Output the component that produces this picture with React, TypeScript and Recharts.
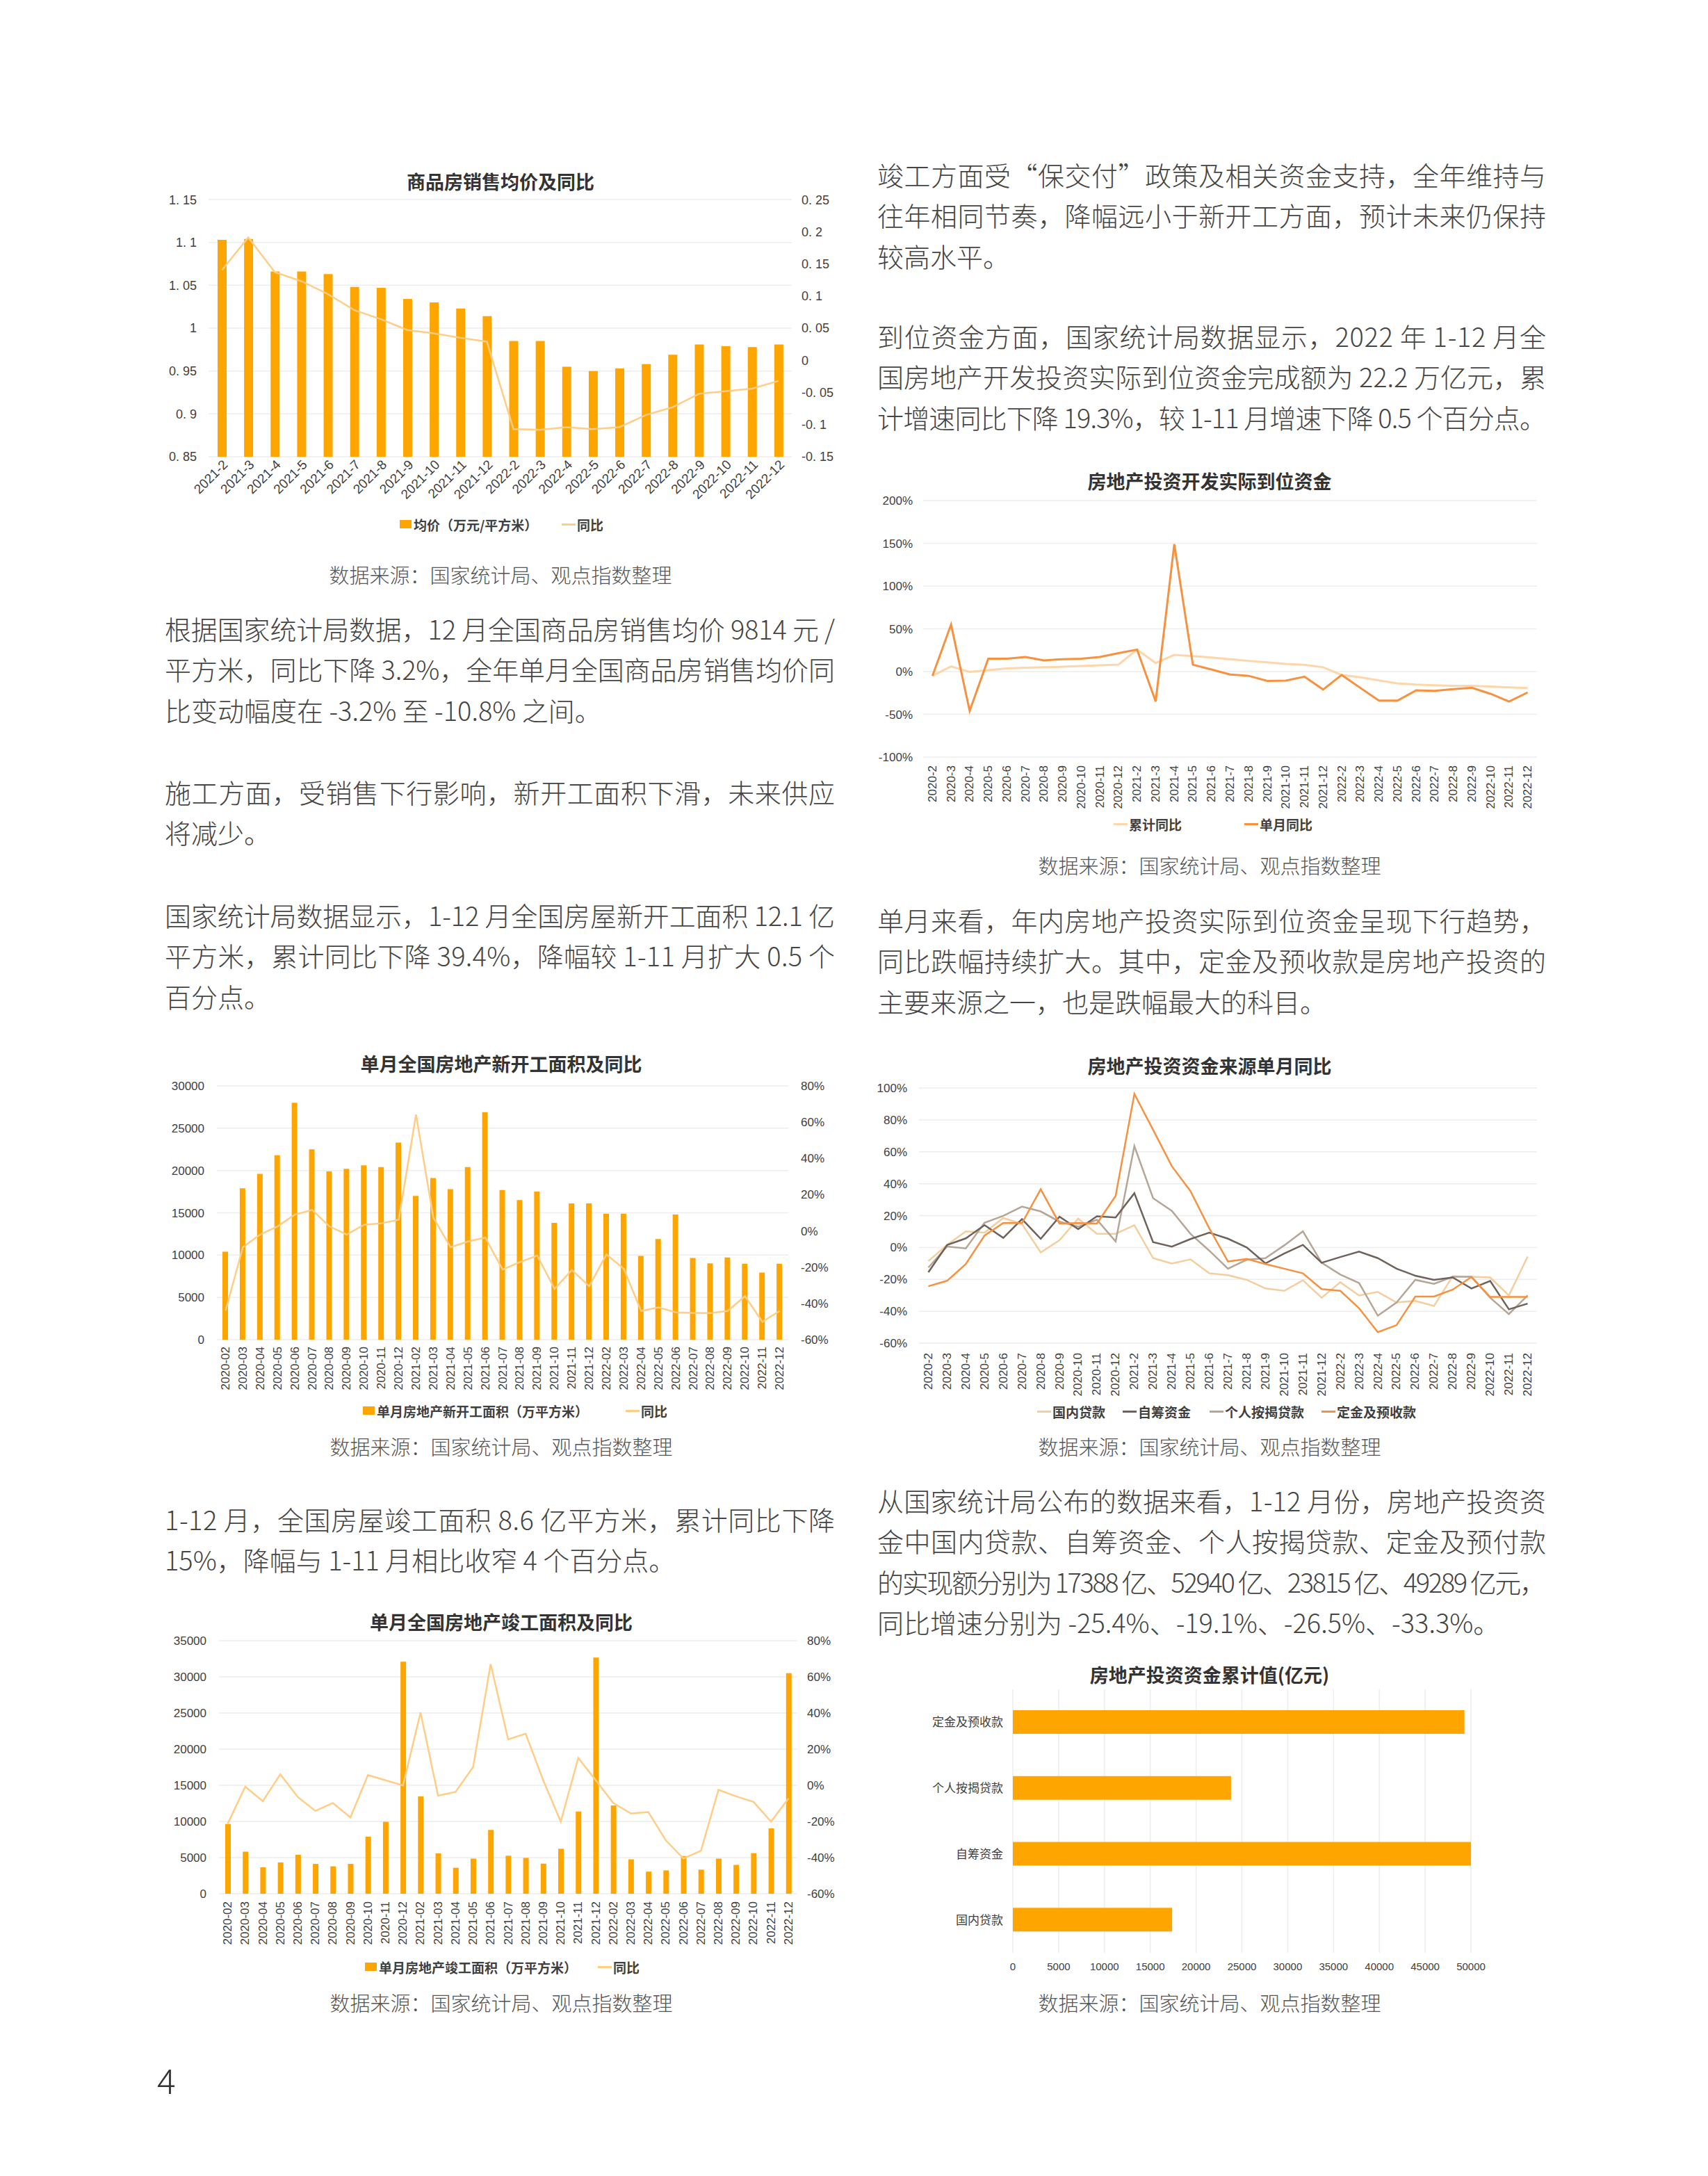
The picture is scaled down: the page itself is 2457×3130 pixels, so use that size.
import React from "react"
import {
  BarChart,
  Bar,
  ComposedChart,
  LineChart,
  Line,
  XAxis,
  YAxis,
  CartesianGrid,
} from "recharts"

const CN = "'Noto Sans CJK SC', 'Noto Sans', sans-serif"
const NUM = "'Liberation Sans', Arial, sans-serif"
const GRID = "#EDEDED"
const BAR = "#FFA500"
const YOY = "#FFCD85"
const AXIS_TEXT = "#404040"

// 商品房销售均价及同比
const priceMonths = [
  "2021-2", "2021-3", "2021-4", "2021-5", "2021-6", "2021-7", "2021-8", "2021-9", "2021-10", "2021-11", "2021-12",
  "2022-2", "2022-3", "2022-4", "2022-5", "2022-6", "2022-7", "2022-8", "2022-9", "2022-10", "2022-11", "2022-12",
]
const avgPrice = [
  1.103, 1.104, 1.066, 1.066, 1.063, 1.048, 1.047, 1.034, 1.03, 1.023, 1.014,
  0.985, 0.985, 0.955, 0.95, 0.953, 0.958, 0.969, 0.981, 0.979, 0.978, 0.981,
]
const avgPriceYoy = [
  0.14, 0.191, 0.137, 0.123, 0.103, 0.078, 0.064, 0.047, 0.042, 0.035, 0.029,
  -0.107, -0.108, -0.104, -0.107, -0.104, -0.085, -0.073, -0.052, -0.048, -0.044, -0.032,
]
const priceTicks = [0.85, 0.9, 0.95, 1, 1.05, 1.1, 1.15]
const priceYoyTicks = [-0.15, -0.1, -0.05, 0, 0.05, 0.1, 0.15, 0.2, 0.25]

// month labels used by the fund charts
const monthsShort = [
  "2020-2", "2020-3", "2020-4", "2020-5", "2020-6", "2020-7", "2020-8", "2020-9", "2020-10", "2020-11", "2020-12",
  "2021-2", "2021-3", "2021-4", "2021-5", "2021-6", "2021-7", "2021-8", "2021-9", "2021-10", "2021-11", "2021-12",
  "2022-2", "2022-3", "2022-4", "2022-5", "2022-6", "2022-7", "2022-8", "2022-9", "2022-10", "2022-11", "2022-12",
]
// month labels used by the area charts
const monthsPadded = [
  "2020-02", "2020-03", "2020-04", "2020-05", "2020-06", "2020-07", "2020-08", "2020-09", "2020-10", "2020-11", "2020-12",
  "2021-02", "2021-03", "2021-04", "2021-05", "2021-06", "2021-07", "2021-08", "2021-09", "2021-10", "2021-11", "2021-12",
  "2022-02", "2022-03", "2022-04", "2022-05", "2022-06", "2022-07", "2022-08", "2022-09", "2022-10", "2022-11", "2022-12",
]

// 房地产投资开发实际到位资金 (%)
const fundCumYoy = [
  -5, 6, -0.3, 1.7, 3.7, 4.5, 5, 5.6, 6.5, 7.3, 8.2,
  25.7, 10, 19.5, 18, 16.4, 14.5, 12.5, 10.8, 9, 8, 5,
  -4, -6.7, -10.4, -13.8, -15.2, -16, -16.6, -16.6, -17.4, -18.5, -19.3,
]
const fundMonthYoy = [
  -5, 55, -46, 15, 15, 17, 13, 14.5, 15, 17, 21.5,
  25.7, -35, 149, 8, 2.5, -3.4, -5, -11, -10.5, -6, -21,
  -4, -19, -34, -34, -22, -22.5, -20.5, -19, -26, -35, -24.4,
]
const fundTicks = [-100, -50, 0, 50, 100, 150, 200]

// 单月全国房地产新开工面积及同比
const startArea = [
  10400, 17900, 19600, 21800, 28000, 22500, 19900, 20200, 20600, 20400, 23300,
  17000, 19100, 17800, 20400, 26900, 17700, 16500, 17500, 13800, 16100, 16100,
  14900, 14900, 9900, 11900, 14800, 9650, 9030, 9710, 8970, 7940, 8970,
]
const startYoy = [
  -44, -9, -2, 2.5, 9, 11.6, 2.5, -2, 3.4, 4.2, 6.2,
  64.2, 7.3, -9, -5.8, -3.7, -21.3, -17.2, -13.6, -31.9, -21.6, -30.5,
  -13, -20.9, -44.2, -42.2, -44.9, -45.2, -45.3, -44.2, -36, -50.1, -44.2,
]
const startTicks = [0, 5000, 10000, 15000, 20000, 25000, 30000]

// 房地产投资资金来源单月同比 (%)
const domesticLoan = [
  -8.5, 1.6, 10.1, 9.3, 18.5, 14.7, -3.1, 4.5, 18.1, 8.6, 8.6,
  14, -6.7, -10.1, -7.5, -16.2, -17.4, -20.3, -25.7, -27.2, -20.6, -31.5,
  -21.8, -30.1, -27.9, -34.5, -33.5, -36.7, -18, -18.4, -18.8, -30.1, -5.7,
]
const selfRaised = [
  -15.5, 1.6, 5.7, 14, 6, 17.8, 5.4, 19.3, 11.5, 19.6, 18.8,
  34, 3.3, 0.5, 5.3, 9.3, 5.5, 0, -10, -3.8, 1.6, -9.6,
  -6, -2.6, -6.7, -13.3, -17.7, -20.3, -18.8, -25.7, -21, -38.8, -35.2,
]
const mortgage = [
  -12.6, 0.6, -0.6, 15.5, 19.8, 25.6, 22.6, 16.2, 13, 17.4, 3.8,
  63.6, 30.9, 23, 8.5, -2, -13.3, -7.7, -6.7, 1.3, 10.1, -9.6,
  -17, -22.3, -42.8, -34.5, -20.3, -22.8, -18.4, -18.4, -31.5, -41.8, -30.1,
]
const deposits = [
  -24.3, -20.9, -10.4, 7.5, 15.3, 15.3, 36.5, 15, 15.3, 15, 32.3,
  96.3, 73.8, 51, 35.3, 12, -8.8, -7.2, -10.4, -13.3, -16.2, -26.1,
  -27.2, -38.1, -53.1, -48.7, -30.8, -30.8, -26.4, -18.5, -31, -31, -31,
]
const sourceTicks = [-60, -40, -20, 0, 20, 40, 60, 80, 100]

// 单月全国房地产竣工面积及同比
const completeArea = [
  9650, 5820, 3660, 4330, 5390, 4130, 3790, 4130, 7890, 9950, 32100,
  13470, 5590, 3590, 4860, 8820, 5260, 4960, 4160, 6220, 11380, 32670,
  12210, 4760, 3060, 3230, 5220, 3330, 4860, 3990, 5620, 9050, 30510,
]
const completeYoy = [
  -21.2, -0.8, -8.8, 6.1, -6.5, -14.2, -9.8, -17.8, 5.7, 2.8, -0.1,
  40.3, -5.8, -3.6, 10.1, 67, 25.4, 28.5, 2.8, -20.1, 15.1, 2.8,
  -9.8, -15.6, -14.8, -30.5, -40.5, -36.2, -2.5, -6.1, -9.2, -20.1, -7.2,
]
const completeTicks = [0, 5000, 10000, 15000, 20000, 25000, 30000, 35000]
const areaYoyTicks = [-60, -40, -20, 0, 20, 40, 60, 80]

// 房地产投资资金累计值(亿元)
const fundSourceNames = ["定金及预收款", "个人按揭贷款", "自筹资金", "国内贷款"]
const fundSourceTotals = [49289, 23815, 52940, 17388]
const fundTotalTicks = [0, 5000, 10000, 15000, 20000, 25000, 30000, 35000, 40000, 45000, 50000]

const priceData = priceMonths.map((m, i) => ({ month: m, price: avgPrice[i], yoy: avgPriceYoy[i] }))
const fundData = monthsShort.map((m, i) => ({ month: m, cum: fundCumYoy[i], single: fundMonthYoy[i] }))
const startData = monthsPadded.map((m, i) => ({ month: m, area: startArea[i], yoy: startYoy[i] }))
const sourceData = monthsShort.map((m, i) => ({
  month: m,
  domestic: domesticLoan[i],
  self: selfRaised[i],
  mortgage: mortgage[i],
  deposit: deposits[i],
}))
const completeData = monthsPadded.map((m, i) => ({ month: m, area: completeArea[i], yoy: completeYoy[i] }))
const totalData = fundSourceNames.map((n, i) => ({ name: n, value: fundSourceTotals[i] }))

const decimalLabel = (v: number) => String(Math.round(v * 100) / 100).replace(".", ". ")
const pctLabel = (v: number) => `${v}%`

const tickStyle = { fontSize: 17, fill: AXIS_TEXT, fontFamily: NUM }

const slantTick = (props: any) => {
  const { x, y, payload } = props
  const tx = x + 5
  const ty = y + 8
  return (
    <text
      x={tx}
      y={ty}
      transform={`rotate(-45 ${tx} ${ty})`}
      textAnchor="end"
      dominantBaseline="central"
      fontSize={19}
      fill={AXIS_TEXT}
      fontFamily={NUM}
    >
      {payload.value}
    </text>
  )
}

const uprightTick = (gap: number) => (props: any) => {
  const { x, y, payload } = props
  const ty = y + gap
  return (
    <text
      x={x}
      y={ty}
      transform={`rotate(-90 ${x} ${ty})`}
      textAnchor="end"
      dominantBaseline="central"
      fontSize={17}
      fill={AXIS_TEXT}
      fontFamily={NUM}
    >
      {payload.value}
    </text>
  )
}

// body copy, one entry per printed line; true = line runs the full column
const bodyText: { x: number; y: number; w: number; lines: [string, boolean][] }[] = [
  {
    x: 1262, y: 250, w: 962,
    lines: [
      ["竣工方面受“保交付”政策及相关资金支持，全年维持与", true],
      ["往年相同节奏，降幅远小于新开工方面，预计未来仍保持", true],
      ["较高水平。", false],
    ],
  },
  {
    x: 1262, y: 482, w: 962,
    lines: [
      ["到位资金方面，国家统计局数据显示，2022 年 1-12 月全", true],
      ["国房地产开发投资实际到位资金完成额为 22.2 万亿元，累", true],
      ["计增速同比下降 19.3%，较 1-11 月增速下降 0.5 个百分点。", true],
    ],
  },
  {
    x: 1262, y: 1322, w: 962,
    lines: [
      ["单月来看，年内房地产投资实际到位资金呈现下行趋势，", true],
      ["同比跌幅持续扩大。其中，定金及预收款是房地产投资的", true],
      ["主要来源之一，也是跌幅最大的科目。", false],
    ],
  },
  {
    x: 1262, y: 2157, w: 962,
    lines: [
      ["从国家统计局公布的数据来看，1-12 月份，房地产投资资", true],
      ["金中国内贷款、自筹资金、个人按揭贷款、定金及预付款", true],
      ["的实现额分别为 17388 亿、52940 亿、23815 亿、49289 亿元，", true],
      ["同比增速分别为 -25.4%、-19.1%、-26.5%、-33.3%。", false],
    ],
  },
  {
    x: 237, y: 903, w: 964,
    lines: [
      ["根据国家统计局数据，12 月全国商品房销售均价 9814 元 /", true],
      ["平方米，同比下降 3.2%，全年单月全国商品房销售均价同", true],
      ["比变动幅度在 -3.2% 至 -10.8% 之间。", false],
    ],
  },
  {
    x: 237, y: 1138, w: 964,
    lines: [
      ["施工方面，受销售下行影响，新开工面积下滑，未来供应", true],
      ["将减少。", false],
    ],
  },
  {
    x: 237, y: 1315, w: 964,
    lines: [
      ["国家统计局数据显示，1-12 月全国房屋新开工面积 12.1 亿", true],
      ["平方米，累计同比下降 39.4%，降幅较 1-11 月扩大 0.5 个", true],
      ["百分点。", false],
    ],
  },
  {
    x: 237, y: 2184, w: 964,
    lines: [
      ["1-12 月，全国房屋竣工面积 8.6 亿平方米，累计同比下降", true],
      ["15%，降幅与 1-11 月相比收窄 4 个百分点。", false],
    ],
  },
]

const captions = [
  { x: 720, title: "商品房销售均价及同比", titleY: 260, sourceY: 826 },
  { x: 1740, title: "房地产投资开发实际到位资金", titleY: 691, sourceY: 1244 },
  { x: 721, title: "单月全国房地产新开工面积及同比", titleY: 1529, sourceY: 2080 },
  { x: 1740, title: "房地产投资资金来源单月同比", titleY: 1532, sourceY: 2080 },
  { x: 721, title: "单月全国房地产竣工面积及同比", titleY: 2332, sourceY: 2880 },
  { x: 1740, title: "房地产投资资金累计值(亿元)", titleY: 2408, sourceY: 2880 },
]

type LegendItem = { left: number; label: string; color: string; kind: "box" | "line" }

function LegendRow({ top, items }: { top: number; items: LegendItem[] }) {
  return (
    <>
      {items.map((it) => (
        <div
          key={it.label}
          style={{
            position: "absolute",
            left: it.left,
            top: top - 14,
            height: 28,
            display: "flex",
            alignItems: "center",
            fontFamily: CN,
            fontSize: 19,
            fontWeight: 700,
            color: "#404040",
            whiteSpace: "nowrap",
          }}
        >
          <span
            style={{
              display: "inline-block",
              width: it.kind === "box" ? 17 : 20,
              height: it.kind === "box" ? 12 : 3,
              background: it.color,
              marginRight: it.kind === "box" ? 3 : 2,
            }}
          />
          {it.label}
        </div>
      ))}
    </>
  )
}

const box = (left: number, top: number): React.CSSProperties => ({ position: "absolute", left, top })

export default function App() {
  return (
    <div style={{ position: "absolute", left: 0, top: 0, width: 2457, height: 3130, background: "#fff", overflow: "hidden" }}>
      <svg width={2457} height={3130} style={{ position: "absolute", left: 0, top: 0 }}>
        {bodyText.map((block, bi) =>
          block.lines.map(([t, full], li) => (
            <text
              key={`${bi}-${li}`}
              x={block.x}
              y={block.y + li * 58.5}
              dominantBaseline="central"
              fontSize={38}
              fontWeight={300}
              fontFamily={CN}
              fill="#454545"
              textLength={full ? block.w : undefined}
              lengthAdjust="spacing"
            >
              {t}
            </text>
          ))
        )}
        {captions.map((c) => (
          <g key={c.title}>
            <text x={c.x} y={c.titleY} textAnchor="middle" dominantBaseline="central" fontSize={27} fontWeight={700} fontFamily={CN} fill="#333">
              {c.title}
            </text>
            <text x={c.x} y={c.sourceY} textAnchor="middle" dominantBaseline="central" fontSize={29} fontWeight={300} fontFamily={CN} fill="#555">
              数据来源：国家统计局、观点指数整理
            </text>
          </g>
        ))}
        <text x={226} y={2990} dominantBaseline="central" fontSize={50} fontWeight={300} fontFamily={CN} fill="#333">
          4
        </text>
      </svg>

      {/* 商品房销售均价及同比 */}
      <div style={box(230, 277)}>
        <ComposedChart width={979} height={450} data={priceData} margin={{ top: 10, right: 0, bottom: 0, left: 0 }}>
          <CartesianGrid yAxisId="left" vertical={false} stroke={GRID} strokeWidth={1.5} />
          <XAxis dataKey="month" interval={0} height={70} axisLine={false} tickLine={false} tickSize={0} tickMargin={0} tick={slantTick} />
          <YAxis
            yAxisId="left"
            width={70}
            domain={[0.85, 1.15]}
            ticks={priceTicks}
            tickFormatter={decimalLabel}
            axisLine={false}
            tickLine={false}
            tickSize={0}
            tickMargin={17}
            tick={{ ...tickStyle, fontSize: 18 }}
          />
          <YAxis
            yAxisId="right"
            orientation="right"
            width={70}
            domain={[-0.15, 0.25]}
            ticks={priceYoyTicks}
            tickFormatter={decimalLabel}
            axisLine={false}
            tickLine={false}
            tickSize={0}
            tickMargin={14}
            tick={{ ...tickStyle, fontSize: 18 }}
          />
          <Bar yAxisId="left" dataKey="price" fill={BAR} barSize={13} isAnimationActive={false} />
          <Line yAxisId="right" dataKey="yoy" type="linear" stroke={YOY} strokeWidth={2.5} dot={false} isAnimationActive={false} />
        </ComposedChart>
      </div>
      <LegendRow
        top={754}
        items={[
          { left: 575, label: "均价（万元/平方米）", color: BAR, kind: "box" },
          { left: 808, label: "同比", color: YOY, kind: "line" },
        ]}
      />

      {/* 房地产投资开发实际到位资金 */}
      <div style={box(1250, 710)}>
        <LineChart width={971} height={464} data={fundData} margin={{ top: 10, right: 10, bottom: 0, left: 0 }}>
          <CartesianGrid vertical={false} stroke={GRID} strokeWidth={1.5} />
          <XAxis dataKey="month" scale="band" interval={0} height={85} axisLine={false} tickLine={false} tickSize={0} tickMargin={0} tick={uprightTick(12)} />
          <YAxis
            width={78}
            domain={[-100, 200]}
            ticks={fundTicks}
            tickFormatter={pctLabel}
            axisLine={false}
            tickLine={false}
            tickSize={0}
            tickMargin={15}
            tick={tickStyle}
          />
          <Line dataKey="cum" type="linear" stroke="#FDD6AA" strokeWidth={3} dot={false} isAnimationActive={false} />
          <Line dataKey="single" type="linear" stroke="#F8913F" strokeWidth={3} dot={false} isAnimationActive={false} />
        </LineChart>
      </div>
      <LegendRow
        top={1185}
        items={[
          { left: 1602, label: "累计同比", color: "#FDD6AA", kind: "line" },
          { left: 1790, label: "单月同比", color: "#F8913F", kind: "line" },
        ]}
      />

      {/* 单月全国房地产新开工面积及同比 */}
      <div style={box(230, 1552)}>
        <ComposedChart width={974} height={455} data={startData} margin={{ top: 10, right: 0, bottom: 0, left: 0 }}>
          <CartesianGrid yAxisId="left" vertical={false} stroke={GRID} strokeWidth={1.5} />
          <XAxis dataKey="month" interval={0} height={80} axisLine={false} tickLine={false} tickSize={0} tickMargin={0} tick={uprightTick(10)} />
          <YAxis
            yAxisId="left"
            width={82}
            domain={[0, 30000]}
            ticks={startTicks}
            axisLine={false}
            tickLine={false}
            tickSize={0}
            tickMargin={18}
            tick={tickStyle}
          />
          <YAxis
            yAxisId="right"
            orientation="right"
            width={70}
            domain={[-60, 80]}
            ticks={areaYoyTicks}
            tickFormatter={pctLabel}
            axisLine={false}
            tickLine={false}
            tickSize={0}
            tickMargin={18}
            tick={tickStyle}
          />
          <Bar yAxisId="left" dataKey="area" fill={BAR} barSize={8} isAnimationActive={false} />
          <Line yAxisId="right" dataKey="yoy" type="linear" stroke={YOY} strokeWidth={2.5} dot={false} isAnimationActive={false} />
        </ComposedChart>
      </div>
      <LegendRow
        top={2029}
        items={[
          { left: 522, label: "单月房地产新开工面积（万平方米）", color: BAR, kind: "box" },
          { left: 900, label: "同比", color: YOY, kind: "line" },
        ]}
      />

      {/* 房地产投资资金来源单月同比 */}
      <div style={box(1250, 1555)}>
        <LineChart width={971} height={462} data={sourceData} margin={{ top: 10, right: 10, bottom: 0, left: 0 }}>
          <CartesianGrid vertical={false} stroke={GRID} strokeWidth={1.5} />
          <XAxis dataKey="month" scale="band" interval={0} height={85} axisLine={false} tickLine={false} tickSize={0} tickMargin={0} tick={uprightTick(14)} />
          <YAxis
            width={72}
            domain={[-60, 100]}
            ticks={sourceTicks}
            tickFormatter={pctLabel}
            axisLine={false}
            tickLine={false}
            tickSize={0}
            tickMargin={17}
            tick={tickStyle}
          />
          <Line dataKey="domestic" type="linear" stroke="#F4CE9E" strokeWidth={2.5} dot={false} isAnimationActive={false} />
          <Line dataKey="mortgage" type="linear" stroke="#B6A696" strokeWidth={2.5} dot={false} isAnimationActive={false} />
          <Line dataKey="self" type="linear" stroke="#6E625A" strokeWidth={2.5} dot={false} isAnimationActive={false} />
          <Line dataKey="deposit" type="linear" stroke="#F8913F" strokeWidth={2.5} dot={false} isAnimationActive={false} />
        </LineChart>
      </div>
      <LegendRow
        top={2030}
        items={[
          { left: 1492, label: "国内贷款", color: "#F4CE9E", kind: "line" },
          { left: 1615, label: "自筹资金", color: "#6E625A", kind: "line" },
          { left: 1740, label: "个人按揭贷款", color: "#B6A696", kind: "line" },
          { left: 1901, label: "定金及预收款", color: "#F8913F", kind: "line" },
        ]}
      />

      {/* 单月全国房地产竣工面积及同比 */}
      <div style={box(230, 2350)}>
        <ComposedChart width={987} height={459} data={completeData} margin={{ top: 10, right: 0, bottom: 0, left: 0 }}>
          <CartesianGrid yAxisId="left" vertical={false} stroke={GRID} strokeWidth={1.5} />
          <XAxis dataKey="month" interval={0} height={85} axisLine={false} tickLine={false} tickSize={0} tickMargin={0} tick={uprightTick(11)} />
          <YAxis
            yAxisId="left"
            width={85}
            domain={[0, 35000]}
            ticks={completeTicks}
            axisLine={false}
            tickLine={false}
            tickSize={0}
            tickMargin={18}
            tick={tickStyle}
          />
          <YAxis
            yAxisId="right"
            orientation="right"
            width={70}
            domain={[-60, 80]}
            ticks={areaYoyTicks}
            tickFormatter={pctLabel}
            axisLine={false}
            tickLine={false}
            tickSize={0}
            tickMargin={14}
            tick={tickStyle}
          />
          <Bar yAxisId="left" dataKey="area" fill={BAR} barSize={8} isAnimationActive={false} />
          <Line yAxisId="right" dataKey="yoy" type="linear" stroke={YOY} strokeWidth={2.5} dot={false} isAnimationActive={false} />
        </ComposedChart>
      </div>
      <LegendRow
        top={2829}
        items={[
          { left: 525, label: "单月房地产竣工面积（万平方米）", color: BAR, kind: "box" },
          { left: 860, label: "同比", color: YOY, kind: "line" },
        ]}
      />

      {/* 房地产投资资金累计值(亿元) */}
      <div style={box(1250, 2420)}>
        <BarChart width={912} height={429} data={totalData} layout="vertical" margin={{ top: 10, right: 46, bottom: 0, left: 0 }}>
          <CartesianGrid horizontal={false} stroke={GRID} strokeWidth={1.5} />
          <XAxis
            type="number"
            domain={[0, 50000]}
            ticks={fundTotalTicks}
            allowDataOverflow
            height={40}
            axisLine={false}
            tickLine={false}
            tickSize={0}
            tickMargin={14}
            tick={{ ...tickStyle, fontSize: 15 }}
          />
          <YAxis
            type="category"
            dataKey="name"
            width={207}
            axisLine={false}
            tickLine={false}
            tickSize={0}
            tickMargin={14}
            tick={{ fontSize: 17, fill: AXIS_TEXT, fontFamily: CN }}
          />
          <Bar dataKey="value" fill={BAR} barSize={34} isAnimationActive={false} />
        </BarChart>
      </div>
    </div>
  )
}
